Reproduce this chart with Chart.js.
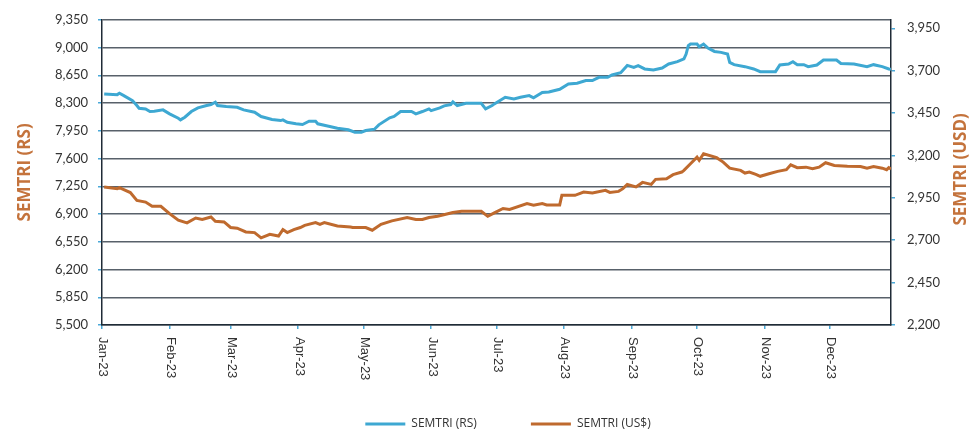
<!DOCTYPE html>
<html>
<head>
<meta charset="utf-8">
<script src="https://cdn.jsdelivr.net/npm/chart.js@4.4.1/dist/chart.umd.min.js"></script>
<style>
  html, body { margin: 0; padding: 0; background: #fff; }
  #wrap { width: 970px; height: 430px; }
</style>
</head>
<body>
<div id="wrap"><canvas id="semtriChart" width="970" height="430"></canvas></div>
<script>
// x axis = day of year 2023 (0 = 1 Jan), ticks at month starts
const monthStarts = [0, 31, 59, 90, 120, 151, 181, 212, 243, 273, 304, 334];
const monthLabels = ["Jan-23", "Feb-23", "Mar-23", "Apr-23", "May-23", "Jun-23",
                     "Jul-23", "Aug-23", "Sep-23", "Oct-23", "Nov-23", "Dec-23"];
const lastDay = 362;

const rsTicks = [5500, 5850, 6200, 6550, 6900, 7250, 7600, 7950, 8300, 8650, 9000, 9350];
const usdTicks = [2200, 2450, 2700, 2950, 3200, 3450, 3700, 3950];

// SEMTRI (RS) - left axis
const rsDays = [1, 7, 8, 10, 14, 16, 17, 20, 22, 24, 28, 31, 35, 36, 38, 41, 44, 48, 50, 52,
  53, 57, 62, 65, 70, 73, 78, 82, 83, 85, 89, 92, 95, 98, 99, 104, 108, 113, 116, 119,
  121, 125, 127, 132, 134, 137, 142, 144, 147, 150, 151, 155, 157, 160, 161, 163, 167, 174, 176, 179,
  180, 185, 189, 192, 196, 198, 202, 205, 210, 214, 218, 222, 225, 228, 232, 234, 238, 241, 244, 246,
  249, 253, 257, 260, 264, 267, 268, 269, 270, 273, 274, 276, 278, 281, 284, 287, 288, 290, 295, 299,
  302, 309, 311, 315, 317, 319, 322, 324, 328, 331, 337, 339, 345, 351, 354, 358, 361, 362];
const rsValues = [8415, 8406, 8423, 8394, 8331, 8268, 8234, 8226, 8193, 8196, 8214, 8164, 8108, 8088, 8121, 8193, 8239, 8268, 8281, 8310,
  8268, 8255, 8247, 8214, 8184, 8130, 8092, 8079, 8088, 8058, 8038, 8029, 8070, 8070, 8038, 8008, 7982, 7962, 7932, 7932,
  7953, 7970, 8025, 8113, 8130, 8193, 8193, 8164, 8193, 8226, 8205, 8239, 8264, 8281, 8315, 8268, 8297, 8297, 8226, 8268,
  8289, 8372, 8352, 8372, 8394, 8365, 8432, 8440, 8473, 8541, 8549, 8583, 8583, 8624, 8624, 8654, 8683, 8775, 8750, 8771,
  8730, 8717, 8742, 8793, 8822, 8856, 8918, 9023, 9044, 9044, 9010, 9044, 8994, 8951, 8939, 8918, 8813, 8784, 8759, 8730,
  8696, 8696, 8780, 8793, 8822, 8784, 8784, 8759, 8780, 8843, 8843, 8800, 8793, 8759, 8784, 8759, 8730, 8725];

// SEMTRI (US$) - right axis
const usdDays = [1, 7, 8, 10, 13, 16, 20, 23, 27, 31, 35, 39, 43, 46, 50, 52, 56, 59, 62, 66,
  70, 73, 77, 81, 83, 85, 88, 91, 93, 98, 100, 102, 108, 114, 115, 121, 124, 128, 133, 140,
  144, 147, 150, 154, 161, 165, 174, 177, 180, 184, 187, 195, 198, 202, 204, 210, 211, 217, 221, 225,
  231, 233, 237, 239, 241, 245, 248, 252, 254, 259, 262, 266, 267, 270, 273, 274, 276, 282, 285, 288,
  293, 295, 297, 300, 302, 306, 310, 314, 316, 319, 323, 326, 329, 332, 336, 342, 348, 351, 354, 358,
  360, 361, 362];
const usdValues = [3014, 3004, 3010, 2998, 2981, 2935, 2925, 2900, 2900, 2857, 2818, 2802, 2831, 2822, 2837, 2812, 2808, 2775, 2771, 2749,
  2745, 2714, 2735, 2725, 2763, 2745, 2763, 2775, 2788, 2804, 2794, 2804, 2784, 2778, 2775, 2775, 2759, 2794, 2814, 2834,
  2822, 2822, 2834, 2841, 2863, 2871, 2871, 2841, 2861, 2887, 2881, 2916, 2906, 2916, 2908, 2908, 2965, 2965, 2984, 2978,
  2994, 2982, 2988, 3004, 3029, 3014, 3041, 3029, 3059, 3063, 3087, 3102, 3112, 3151, 3190, 3171, 3210, 3187, 3161, 3125,
  3112, 3096, 3102, 3088, 3077, 3092, 3106, 3116, 3145, 3128, 3131, 3122, 3131, 3157, 3141, 3137, 3135, 3125, 3135, 3125,
  3116, 3128, 3120];

const blue = "#3ea8d2";
const orange = "#bf6a2e";
const titleColor = "#c4733c";
const tickBlue = "#4aa9d8";
const gridGray = "#58616a";
const axisDark = "#1f2b36";
const textColor = "#333333";

// month labels are rotated clockwise + right title reads bottom-to-top
const decorPlugin = {
  id: "decor",
  afterLayout(chart) {
    const lg = chart.legend;
    lg.left += 23; lg.right += 23;
    lg.top += 10; lg.bottom += 10;
  },
  afterDraw(chart) {
    const ctx = chart.ctx;
    const xs = chart.scales.x;
    ctx.save();
    ctx.fillStyle = textColor;
    ctx.font = '13px "Liberation Sans", Arial, sans-serif';
    ctx.textAlign = "left";
    ctx.textBaseline = "middle";
    xs.ticks.forEach((t, i) => {
      const px = xs.getPixelForValue(t.value);
      ctx.save();
      ctx.translate(px + 1, xs.top + 12);
      ctx.rotate(Math.PI / 2);
      ctx.fillText(monthLabels[i], 0, 0);
      ctx.restore();
    });
    const area = chart.chartArea;
    ctx.font = 'bold 17px "Open Sans", sans-serif';
    ctx.fillStyle = titleColor;
    ctx.textAlign = "center";
    ctx.translate(961, (area.top + area.bottom) / 2 - 3);
    ctx.rotate(-Math.PI / 2);
    ctx.fillText("SEMTRI (USD)", 0, 0);
    ctx.restore();
  }
};

const ctx = document.getElementById("semtriChart").getContext("2d");
new Chart(ctx, {
  type: "line",
  data: {
    datasets: [{
      label: "SEMTRI (RS)",
      data: rsDays.map((d, i) => ({ x: d, y: rsValues[i] })),
      borderColor: blue,
      backgroundColor: blue,
      borderWidth: 3,
      pointRadius: 0,
      tension: 0,
      yAxisID: "yRs"
    }, {
      label: "SEMTRI (US$)",
      data: usdDays.map((d, i) => ({ x: d, y: usdValues[i] })),
      borderColor: orange,
      backgroundColor: orange,
      borderWidth: 3,
      pointRadius: 0,
      tension: 0,
      yAxisID: "yUsd"
    }]
  },
  options: {
    responsive: false,
    animation: false,
    devicePixelRatio: 1,
    layout: { padding: { top: 19, left: 0, right: 0, bottom: 0 } },
    plugins: {
      legend: {
        position: "bottom",
        labels: {
          boxWidth: 40,
          boxHeight: 3,
          padding: 54,
          color: textColor,
          font: { family: "Open Sans", size: 12 },
          generateLabels: chart => Chart.defaults.plugins.legend.labels.generateLabels(chart)
            .map(item => Object.assign(item, { lineWidth: 0 }))
        }
      },
      tooltip: { enabled: false }
    },
    scales: {
      x: {
        type: "linear",
        min: 0,
        max: lastDay,
        afterBuildTicks: s => { s.ticks = monthStarts.map(v => ({ value: v })); },
        afterFit: s => { s.height = 29; },
        ticks: { display: false },
        grid: { drawOnChartArea: false, tickLength: 4, tickColor: tickBlue, lineWidth: 1.5 },
        border: { display: true, color: axisDark, width: 1.5 }
      },
      yRs: {
        position: "left",
        min: 5500,
        max: 9350,
        afterBuildTicks: s => { s.ticks = rsTicks.map(v => ({ value: v })); },
        afterFit: s => { s.width = 102; },
        ticks: {
          callback: v => v.toLocaleString("en-US"),
          font: { family: "Lato", size: 13 },
          color: textColor,
          padding: 10
        },
        grid: { color: gridGray, lineWidth: 1.5, tickLength: 4, tickColor: tickBlue },
        border: { display: true, color: axisDark, width: 1.5 },
        title: {
          display: true,
          text: "SEMTRI (RS)",
          color: titleColor,
          font: { family: "Open Sans", size: 17, weight: "bold" },
          padding: { top: 15, bottom: 0 }
        }
      },
      yUsd: {
        position: "right",
        min: 2200,
        max: 4000,
        afterBuildTicks: s => { s.ticks = usdTicks.map(v => ({ value: v })); },
        afterFit: s => { s.width = 79; },
        ticks: {
          callback: v => v.toLocaleString("en-US"),
          font: { family: "Lato", size: 13 },
          color: textColor,
          padding: 12
        },
        grid: { drawOnChartArea: false, tickLength: 4, tickColor: tickBlue, lineWidth: 1.5 },
        border: { display: true, color: axisDark, width: 1.5 }
      }
    }
  },
  plugins: [decorPlugin]
});
</script>
</body>
</html>
